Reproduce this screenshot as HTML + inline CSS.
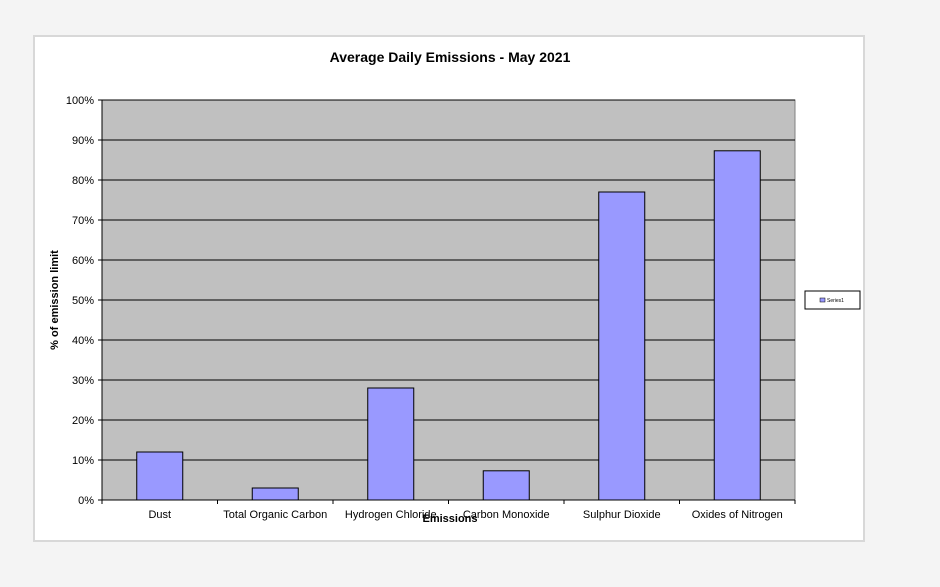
<!DOCTYPE html>
<html><head><meta charset="utf-8"><style>
body{margin:0;background:#f4f4f4;width:940px;height:582px;overflow:hidden;font-family:"Liberation Sans",Arial,sans-serif}
</style></head><body>
<svg width="940" height="582" xmlns="http://www.w3.org/2000/svg">
<rect x="34" y="36" width="830" height="505" fill="#fff" stroke="#d8d8d8" stroke-width="2"/>
<text x="450" y="62" text-anchor="middle" font-size="14" font-weight="bold" fill="#000">Average Daily Emissions - May 2021</text>
<rect x="102" y="100" width="693" height="400" fill="#c0c0c0" stroke="#808080"/>
<g id="grid"></g>
<g id="bars"></g>
<g id="axes"></g>
<text transform="translate(58,300) rotate(-90)" text-anchor="middle" font-size="11" font-weight="bold">% of emission limit</text>
<text x="450" y="522" text-anchor="middle" font-size="11" font-weight="bold">Emissions</text>
<g>
<rect x="805" y="291" width="55" height="18" fill="#fff" stroke="#000"/>
<rect x="820" y="298" width="5" height="4" fill="#9999ff" stroke="#000" stroke-width="0.5"/>
<text x="827" y="302" font-size="5" fill="#000">Series1</text>
</g>
</svg>
<script>
const categories=["Dust","Total Organic Carbon","Hydrogen Chloride","Carbon Monoxide","Sulphur Dioxide","Oxides of Nitrogen"];
const values=[12,3,28,7.3,77,87.3];
const yTicks=[0,10,20,30,40,50,60,70,80,90,100];
const NS="http://www.w3.org/2000/svg";
const L=102,R=795,T=100,B=500;
const y=v=>B-(v/100)*(B-T);
const bw=(R-L)/categories.length;
const x=i=>L+i*bw;
function mk(tag,attrs,parent,text){const e=document.createElementNS(NS,tag);for(const k in attrs)e.setAttribute(k,attrs[k]);if(text!==undefined)e.textContent=text;parent.appendChild(e);return e;}
const grid=document.getElementById('grid'),bars=document.getElementById('bars'),axes=document.getElementById('axes');
yTicks.forEach(t=>{
 if(t>0){const g=mk('line',{x1:L,x2:R,y1:y(t),y2:y(t),stroke:'#000','stroke-width':1},grid);
 
 }
 const tk=mk('line',{x1:L-4,x2:L,y1:y(t),y2:y(t),stroke:'#000'},axes);
 
 
 const lb=mk('text',{x:L-8,y:y(t)+4,'text-anchor':'end','font-size':11,fill:'#000'},axes,t+'%');
 
 
});
mk('line',{x1:L,x2:L,y1:T,y2:B,stroke:'#000'},axes);
mk('line',{x1:L,x2:R,y1:B,y2:B,stroke:'#000'},axes);
categories.forEach((c,i)=>{
 const w=46,cx=x(i)+bw/2;
 const r=mk('rect',{x:cx-w/2,y:y(values[i]),width:w,height:B-y(values[i]),fill:'#9999ff',stroke:'#000','stroke-width':1},bars);
 
 
 const tk=mk('line',{x1:x(i+1),x2:x(i+1),y1:B,y2:B+4,stroke:'#000'},axes);
 
 
 const lb=mk('text',{x:cx,y:518,'text-anchor':'middle','font-size':11,fill:'#000'},axes,c);
 
 
});
mk('line',{x1:L,x2:L,y1:B,y2:B+4,stroke:'#000'},axes);
</script>
</body></html>
